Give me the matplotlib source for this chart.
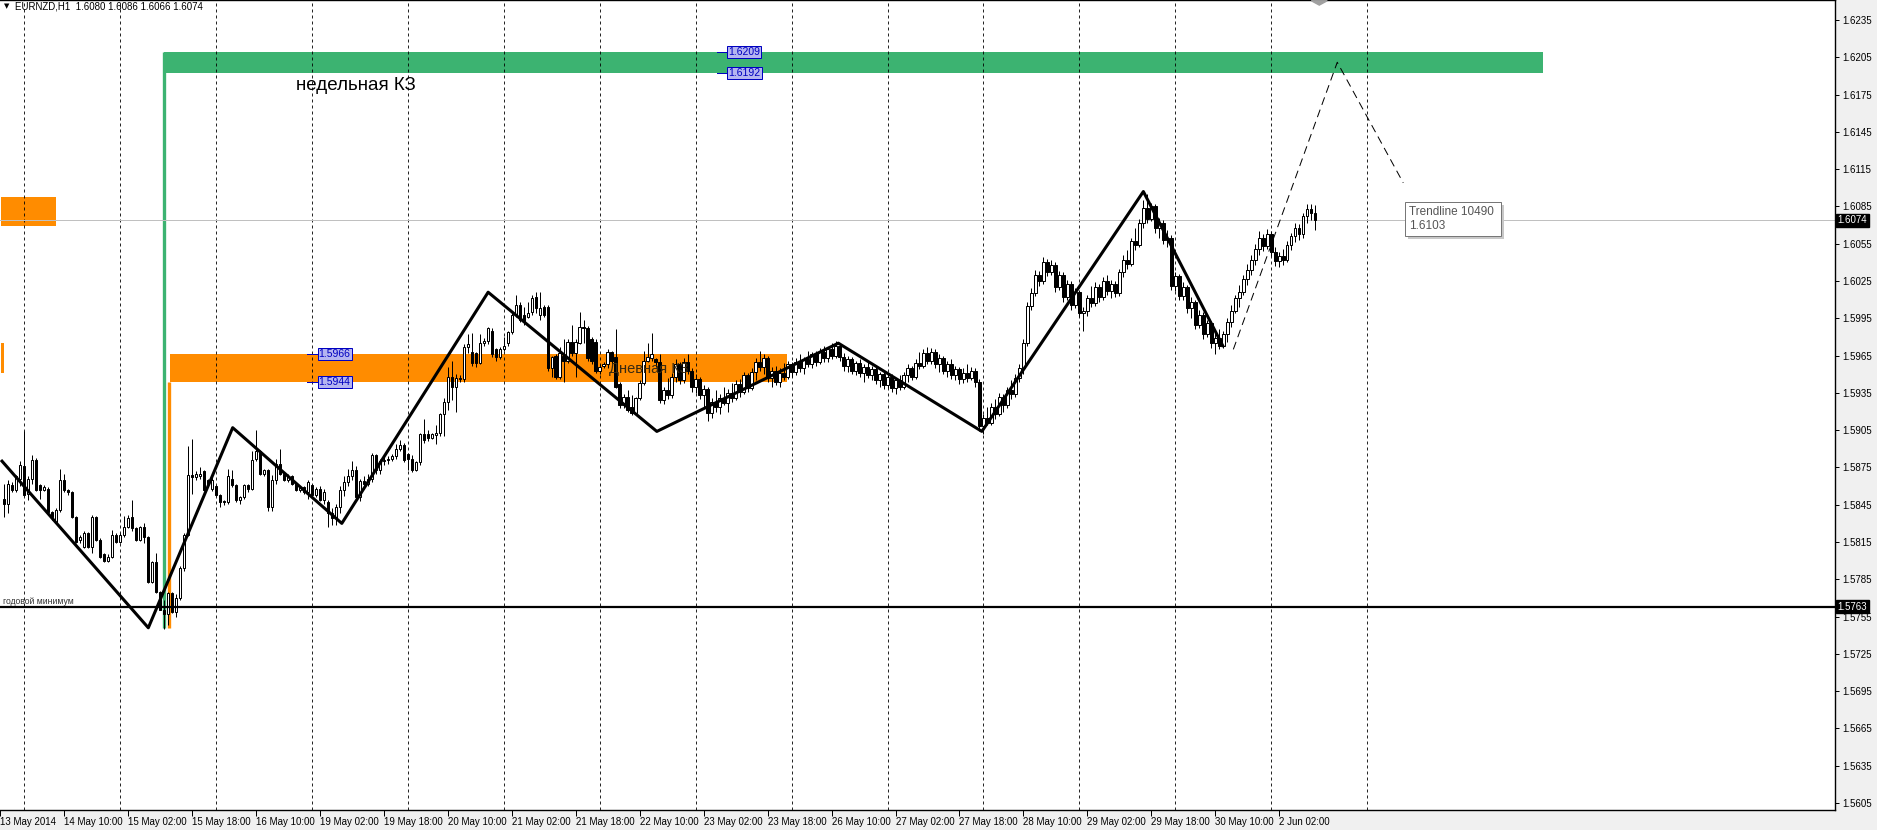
import numpy as np
import matplotlib
matplotlib.use("Agg")
import matplotlib.pyplot as plt
from matplotlib.patches import Rectangle, Polygon

# ==============================
# DATA  (prices as pips above 1.5000, bar 0 = 14 May 00:00, H1)
# ==============================

first_bar = -5
opens = [850, 846, 861, 857, 866, 876, 854, 866, 881, 861, 857, 858, 839, 831, 841, 865, 857, 855, 835, 817,
         811, 822, 811, 835, 817, 805, 800, 803, 821, 815, 821, 827, 835, 826, 817, 827, 819, 783, 799, 775,
         760, 757, 774, 759, 770, 794, 821, 869, 867, 868, 872, 865, 858, 860, 853, 848, 847, 866, 861, 849,
         851, 861, 858, 882, 888, 870, 873, 843, 865, 878, 870, 865, 868, 862, 857, 859, 855, 861, 853, 858,
         849, 847,
         838, 834, 843, 857, 863, 868, 873, 851, 864, 862, 866, 885, 873, 880, 881, 882, 884, 890, 893, 886,
         882, 873, 879, 902, 902, 899, 901, 903, 918, 928, 948, 940, 947, 946, 972, 968, 967, 959, 975, 977,
         985, 970, 964, 970, 975, 984, 998, 1006, 998, 996, 1000, 1012, 998, 1004, 1004, 955, 965, 948, 965, 961,
         976, 967, 975, 988, 987, 978, 976, 953, 957, 958, 968, 964, 942, 925, 932, 924, 919, 931, 943, 961,
         963, 962, 960,
         929, 937, 933, 948, 958, 945, 960, 953, 940, 946, 933, 938, 919, 928, 924, 931, 927, 935, 931, 942,
         936, 949, 939, 952, 960, 956, 963, 947, 953, 944, 951, 948, 958, 952, 960, 955, 962, 958, 966, 960,
         968, 963, 970, 965, 973, 964, 957, 962, 953, 959, 951, 956, 949, 954, 945, 950, 941, 948, 939, 945,
         940, 949, 955, 948, 959, 957, 967, 961, 968, 958, 963, 953, 958, 949, 954, 946, 951, 947, 953, 944,
         908, 915, 911, 924, 918, 932, 925, 937, 934, 947, 955, 975, 1005, 1015, 1030, 1025, 1040, 1032, 1038, 1020,
         1030, 1012, 1023, 1006, 1016, 999, 1001, 1011, 1007, 1020, 1012, 1025, 1017, 1023, 1015, 1032, 1042, 1039, 1057, 1054,
         1072, 1084, 1075, 1085, 1068, 1072, 1058, 1060, 1021, 1029, 1013, 1020, 1003, 1008, 990, 998, 982, 991, 975, 979,
         973, 982, 992, 1001, 1011, 1016, 1027, 1034, 1042, 1051, 1060, 1053, 1063, 1048, 1041, 1045, 1042, 1054, 1061, 1068,
         1063, 1077, 1083, 1080]
highs = [862, 865, 863, 869, 880, 904, 868, 885, 883, 862, 861, 859, 840, 842, 874, 870, 858, 856, 836, 821,
         824, 823, 837, 836, 818, 806, 805, 825, 822, 822, 836, 837, 849, 827, 828, 830, 820, 800, 806, 776,
         768, 775, 775, 773, 796, 822, 892, 898, 872, 875, 873, 866, 868, 861, 854, 849, 874, 873, 862, 852,
         862, 862, 888, 905, 889, 874, 874, 869, 882, 890, 871, 870, 869, 863, 860, 860, 865, 862, 859, 860,
         858, 849,
         842, 846, 860, 868, 874, 880, 876, 866, 868, 870, 887, 886, 882, 885, 884, 886, 894, 897, 895, 887,
         885, 880, 903, 914, 905, 903, 909, 919, 931, 956, 961, 950, 949, 974, 982, 983, 968, 982, 979, 988,
         987, 971, 972, 980, 985, 1000, 1014, 1008, 1004, 1008, 1014, 1016, 1016, 1006, 1006, 965, 966, 972, 978, 978,
         990, 978, 1000, 994, 989, 980, 978, 958, 960, 970, 969, 986, 944, 934, 937, 933, 932, 945, 969, 975,
         983, 963, 966,
         940, 947, 951, 962, 960, 963, 966, 955, 950, 948, 941, 940, 931, 937, 934, 940, 938, 943, 945, 946,
         952, 951, 955, 963, 969, 966, 965, 956, 957, 955, 959, 961, 960, 963, 966, 964, 969, 968, 969, 971,
         973, 972, 975, 977, 975, 967, 965, 964, 961, 962, 958, 960, 957, 956, 952, 953, 951, 950, 947, 949,
         952, 958, 957, 962, 968, 970, 972, 971, 970, 966, 965, 961, 962, 957, 956, 955, 958, 956, 955, 946,
         918, 924, 927, 930, 935, 934, 940, 945, 950, 958, 978, 1008, 1019, 1034, 1033, 1044, 1043, 1042, 1040, 1033,
         1032, 1026, 1025, 1019, 1018, 1004, 1014, 1021, 1024, 1023, 1028, 1030, 1026, 1025, 1035, 1046, 1050, 1060, 1068, 1075,
         1090, 1095, 1088, 1087, 1076, 1074, 1066, 1062, 1032, 1031, 1024, 1022, 1012, 1010, 1002, 1000, 994, 993, 983, 986,
         985, 995, 1006, 1014, 1022, 1030, 1039, 1046, 1055, 1065, 1063, 1067, 1065, 1052, 1048, 1051, 1057, 1064, 1072, 1071,
         1080, 1087, 1087, 1086]
lows = [835, 838, 855, 855, 860, 852, 849, 862, 856, 850, 856, 838, 833, 830, 839, 855, 853, 834, 814, 814,
        810, 810, 806, 816, 802, 799, 799, 802, 814, 814, 819, 826, 824, 816, 816, 814, 782, 782, 774, 760,
        745, 748, 758, 755, 768, 792, 820, 854, 865, 866, 856, 860, 856, 852, 843, 845, 846, 859, 847, 846,
        850, 855, 857, 880, 869, 868, 840, 840, 862, 869, 864, 863, 861, 856, 855, 854, 850, 852, 851, 848,
        846, 827,
        829, 829, 838, 852, 860, 865, 848, 848, 858, 860, 863, 870, 870, 877, 878, 880, 882, 888, 879, 873,
        871, 872, 877, 895, 896, 898, 894, 900, 900, 921, 929, 920, 944, 944, 967, 957, 956, 958, 973, 974,
        964, 961, 962, 969, 973, 982, 996, 992, 990, 995, 998, 999, 994, 996, 953, 948, 946, 946, 944, 959,
        965, 948, 974, 975, 961, 958, 951, 950, 955, 955, 958, 939, 923, 923, 920, 917, 917, 929, 941, 960,
        961, 956, 927,
        926, 930, 931, 944, 942, 943, 950, 936, 935, 930, 924, 912, 915, 920, 918, 925, 920, 928, 929, 932,
        934, 936, 937, 945, 953, 950, 944, 940, 941, 940, 945, 946, 948, 949, 952, 950, 956, 955, 957, 958,
        960, 960, 962, 963, 961, 953, 952, 950, 949, 948, 944, 947, 945, 942, 940, 938, 939, 936, 934, 937,
        938, 944, 945, 946, 954, 955, 958, 958, 955, 952, 950, 948, 946, 945, 942, 943, 944, 945, 940, 904,
        902, 909, 909, 914, 916, 920, 923, 930, 932, 944, 950, 973, 1002, 1013, 1021, 1023, 1029, 1030, 1016, 1018,
        1008, 1010, 1002, 1003, 996, 985, 997, 1004, 1005, 1008, 1010, 1014, 1011, 1012, 1013, 1028, 1035, 1037, 1050, 1052,
        1068, 1072, 1073, 1064, 1060, 1055, 1052, 1018, 1017, 1010, 1010, 999, 995, 986, 987, 978, 980, 971, 966, 970,
        971, 976, 988, 999, 1004, 1014, 1022, 1030, 1038, 1046, 1049, 1051, 1045, 1037, 1036, 1038, 1040, 1050, 1056, 1058,
        1060, 1072, 1074, 1066]
closes = [846, 862, 857, 868, 877, 853, 866, 881, 857, 857, 859, 839, 835, 841, 865, 857, 855, 835, 815, 819,
          822, 811, 835, 817, 803, 800, 803, 821, 815, 821, 827, 834, 826, 817, 827, 819, 783, 799, 775, 760,
          757, 774, 759, 770, 794, 821, 869, 867, 870, 870, 857, 862, 865, 853, 847, 847, 868, 861, 849, 851,
          861, 858, 881, 888, 870, 873, 843, 865, 878, 870, 865, 868, 862, 857, 859, 855, 863, 853, 858, 849,
          855, 838,
          834, 843, 857, 863, 868, 873, 851, 864, 862, 866, 885, 873, 880, 881, 882, 884, 890, 893, 881, 882,
          873, 879, 902, 897, 899, 902, 903, 918, 928, 948, 940, 947, 946, 972, 974, 959, 959, 975, 977, 987,
          966, 964, 970, 973, 984, 998, 1006, 994, 992, 999, 1011, 1003, 1003, 998, 955, 964, 948, 967, 961, 976,
          967, 976, 988, 987, 963, 961, 953, 956, 958, 968, 961, 940, 925, 932, 921, 919, 931, 943, 961, 964,
          966, 960, 929,
          937, 933, 948, 958, 945, 960, 953, 940, 946, 933, 938, 919, 928, 924, 931, 927, 935, 931, 942, 936,
          949, 939, 952, 960, 956, 963, 947, 953, 944, 951, 948, 958, 952, 960, 955, 962, 958, 966, 960, 968,
          963, 970, 965, 973, 964, 957, 962, 953, 959, 951, 956, 949, 954, 945, 950, 941, 948, 939, 945, 940,
          949, 955, 948, 959, 957, 967, 961, 968, 958, 963, 953, 958, 949, 954, 946, 951, 947, 953, 944, 908,
          915, 911, 924, 918, 932, 925, 937, 934, 947, 955, 975, 1005, 1015, 1030, 1025, 1040, 1032, 1038, 1020, 1030,
          1012, 1023, 1006, 1016, 999, 1001, 1011, 1007, 1020, 1012, 1025, 1017, 1023, 1015, 1032, 1042, 1039, 1057, 1054, 1072,
          1084, 1075, 1085, 1068, 1072, 1058, 1060, 1021, 1029, 1013, 1020, 1003, 1008, 990, 998, 982, 991, 975, 979, 973,
          982, 992, 1001, 1011, 1016, 1027, 1034, 1042, 1051, 1060, 1053, 1063, 1048, 1041, 1045, 1042, 1054, 1061, 1068, 1063,
          1077, 1083, 1080, 1074]

# zigzag pivots (bar, price)
zz_bars = [-5.75, 31.1, 52.2, 79.5, 116.1, 158.3, 203.7, 239.6, 280.0, 300.0]
zz_prices = [1.5881, 1.5746, 1.5907, 1.5830, 1.6016, 1.5904, 1.5975, 1.5904, 1.6097, 1.5972]
# dashed forecast
fc_bars = [302.5, 328.5, 345.0]
fc_prices = [1.5970, 1.6201, 1.6104]

weekly_zone = (1.6192, 1.6209)
daily_zone = (1.5944, 1.5966)
year_low = 1.5763
last_price = 1.6074

y_ticks = [1.6235, 1.6205, 1.6175, 1.6145, 1.6115, 1.6085, 1.6055, 1.6025, 1.5995, 1.5965, 1.5935,
           1.5905, 1.5875, 1.5845, 1.5815, 1.5785, 1.5755, 1.5725, 1.5695, 1.5665, 1.5635, 1.5605]
time_labels = ["13 May 2014", "14 May 10:00", "15 May 02:00", "15 May 18:00", "16 May 10:00",
               "19 May 02:00", "19 May 18:00", "20 May 10:00", "21 May 02:00", "21 May 18:00",
               "22 May 10:00", "23 May 02:00", "23 May 18:00", "26 May 10:00", "27 May 02:00",
               "27 May 18:00", "28 May 10:00", "29 May 02:00", "29 May 18:00", "30 May 10:00",
               "2 Jun 02:00"]

# ==============================
# FIGURE
# ==============================

W, H = 1877, 830
fig = plt.figure(figsize=(W / 100, H / 100), dpi=100)
fig.patch.set_facecolor("#f0f0f0")
ax = fig.add_axes([0, 20 / H, 1835 / W, 810 / H])
ax.set_facecolor("white")

x0, x1 = -5.75, 453.0
y_lo, y_hi = 1.55994, 1.62511
ax.set_xlim(x0, x1)
ax.set_ylim(y_lo, y_hi)

LW = 0.72  # one pixel
FONT = "Liberation Sans"

# rectangles (background)
ax.add_patch(Rectangle((35, weekly_zone[0]), 380 - 35, weekly_zone[1] - weekly_zone[0],
                       color="#3cb371", lw=0, zorder=1))
ax.add_patch(Rectangle((36.5, daily_zone[0]), 190.75 - 36.5, daily_zone[1] - daily_zone[0],
                       color="#ff8c00", lw=0, zorder=1))
ax.add_patch(Rectangle((x0, 1.6069), 8 - x0, 1.6093 - 1.6069, color="#ff8c00", lw=0, zorder=1))
ax.add_patch(Rectangle((x0, 1.5951), 0.75, 1.5975 - 1.5951, color="#ff8c00", lw=0, zorder=1))
ax.plot([35, 35], [1.5746, weekly_zone[1]], color="#3cb371", lw=2.4, zorder=1.5, solid_capstyle="butt")
ax.plot([36.2, 36.2], [1.5746, daily_zone[0]], color="#ff8c00", lw=2.4, zorder=1.5, solid_capstyle="butt")

# day grid
for d in range(0, 15):
    ax.axvline(d * 24, color="black", lw=LW, ls=(0, (3, 3)), zorder=2, alpha=0.85)

# bid line and year low
ax.axhline(last_price, color="#c0c0c0", lw=LW, zorder=2)
ax.axhline(year_low, color="black", lw=1.6, zorder=4)

# candles
o = 1.5 + np.array(opens) / 10000
h = 1.5 + np.array(highs) / 10000
l = 1.5 + np.array(lows) / 10000
c = 1.5 + np.array(closes) / 10000
xs = np.arange(first_bar, first_bar + len(closes))
up = c >= o
ax.vlines(xs, l, h, color="black", lw=LW, zorder=3)
ax.bar(xs[up], np.maximum(c[up] - o[up], 0.00001), bottom=o[up], width=0.6,
       color="white", edgecolor="black", lw=LW, zorder=3.2)
ax.bar(xs[~up], o[~up] - c[~up], bottom=c[~up], width=0.6,
       color="black", edgecolor="black", lw=LW, zorder=3.2)

# zigzag
ax.plot(zz_bars, zz_prices, color="black", lw=2.2, zorder=5, solid_capstyle="butt")
ax.plot(fc_bars, fc_prices, color="black", lw=LW, ls=(0, (8, 5)), zorder=5)

# texts
ax.text(68, 1.6182, "недельная КЗ", fontsize=13.5, family=FONT, va="center", zorder=6)
ax.text(146.3, 1.5954, "Дневная КЗ", fontsize=10.5, family=FONT, va="center",
        color="#3a2a10", zorder=6)
ax.text(-5.3, year_low + 0.00005, "годовой минимум", fontsize=6.2, family=FONT, va="bottom",
        color="#333333", zorder=6)


def price_box(bar, price, txt):
    ax.plot([bar - 2.7, bar], [price, price], color="#0000c0", lw=LW, zorder=6)
    ax.text(bar + 0.2, price, txt, fontsize=7.5, family=FONT, color="#0000c0", va="center",
            ha="left", zorder=7,
            bbox=dict(boxstyle="square,pad=0.1", fc="#b4b4f0", ec="#0000c0", lw=LW))


price_box(176, 1.6209, "1.6209")
price_box(176, 1.6192, "1.6192")
price_box(73.5, 1.5966, "1.5966")
price_box(73.5, 1.5944, "1.5944")

# tooltip with shadow
ax.add_patch(Rectangle((346.3, 1.60588), 24, 0.00274, fc="#c8c8c8", ec="none", zorder=7.5))
ax.add_patch(Rectangle((345.5, 1.60612), 24, 0.00274, fc="white", ec="#777777", lw=LW, zorder=7.6))
ax.text(346.5, 1.6075, "Trendline 10490\n1.6103", fontsize=8.5, family=FONT, color="#555555",
        va="center", ha="left", linespacing=1.2, zorder=8)

# shift marker
ax.add_patch(Polygon([[322, 1.62505], [326, 1.62505], [324, 1.6247]], closed=True,
                     color="#a0a0a0", zorder=8, clip_on=False))

# header
ax.text(-4.9, 1.6246, "▼", fontsize=5, va="center", zorder=8)
ax.text(-2.3, 1.6246, "EURNZD,H1  1.6080 1.6086 1.6066 1.6074", fontsize=7, family=FONT,
        va="center", zorder=8)

# axes styling
ax.spines["left"].set_visible(False)
for s in ["right", "bottom", "top"]:
    ax.spines[s].set_linewidth(1.0)
ax.yaxis.tick_right()
ax.set_yticks(y_ticks)
ax.set_yticklabels([f"{v:.4f}" for v in y_ticks], fontsize=7, family=FONT)
ax.tick_params(axis="y", length=3, width=LW, pad=2)
label_bars = [-6 + 16 * k for k in range(len(time_labels))]
ax.set_xticks(label_bars)
ax.set_xticklabels(time_labels, fontsize=7, family=FONT, ha="left")
ax.tick_params(axis="x", length=4, width=LW, pad=1)

for price in (last_price, year_low):
    ax.text(1.0015, price, f"{price:.4f}", transform=ax.get_yaxis_transform(), fontsize=7,
            family=FONT, color="white", va="center", ha="left", zorder=10,
            bbox=dict(boxstyle="square,pad=0.15", fc="black", ec="black"))

fig.savefig("out.png", dpi=100, facecolor=fig.get_facecolor())
